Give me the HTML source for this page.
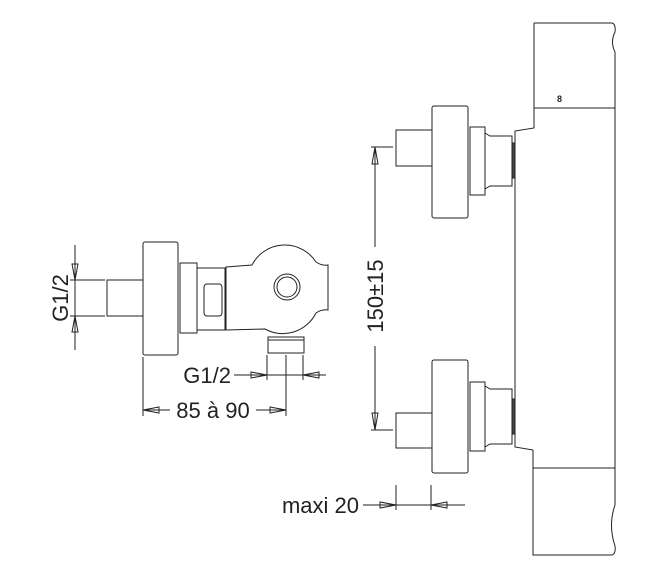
<!DOCTYPE html>
<html><head><style>html,body{margin:0;padding:0;background:#fff}svg{display:block}</style></head><body>
<svg width="660" height="588" viewBox="0 0 660 588" xmlns="http://www.w3.org/2000/svg" font-family="Liberation Sans, sans-serif" font-size="22" fill="none" stroke="#222" stroke-width="1">
<!-- Right body -->
<path d="M534,23 L612,23 Q616,24 615,32 Q610,42 615,52 L615,108 M534,23 L534,128 L515,131 L515,447 L533,450 L533,555 L612,555 Q616,554 615,546 Q608,525 615,505 L615,108 L615,470"/>
<line x1="534" y1="108" x2="615" y2="108"/>
<line x1="533" y1="468" x2="615" y2="468"/>
<text x="557" y="102" font-size="9" fill="#222" stroke="none" font-weight="bold">8</text>
<!-- Upper fitting -->
<rect x="396" y="130" width="36" height="36"/>
<rect x="432" y="106" width="36" height="112" rx="2"/>
<rect x="470" y="127" width="15" height="68"/>
<path d="M485,133 L490,136 L512,136 L512,186 L490,186 L485,189"/>
<rect x="512" y="143" width="3" height="35" fill="#444"/>
<!-- Lower fitting -->
<rect x="396" y="413" width="36" height="35"/>
<rect x="432" y="360" width="36" height="113" rx="2"/>
<rect x="470" y="382" width="15" height="69"/>
<path d="M485,386 L490,389 L512,389 L512,444 L490,444 L485,447"/>
<rect x="512" y="399" width="3" height="35" fill="#444"/>
<!-- 150±15 -->
<line x1="371" y1="147" x2="393" y2="147"/>
<line x1="371" y1="430" x2="393" y2="430"/>
<line x1="375" y1="147" x2="375" y2="247"/>
<line x1="375" y1="346" x2="375" y2="430"/>
<path d="M375,147 L372,164 L378,164 Z M375,430 L372,413 L378,413 Z"/>
<text transform="translate(383,296) rotate(-90)" text-anchor="middle" fill="#222" stroke="none">150±15</text>
<!-- maxi 20 -->
<line x1="396" y1="485" x2="396" y2="510"/>
<line x1="431" y1="485" x2="431" y2="510"/>
<line x1="363" y1="505" x2="465" y2="505"/>
<path d="M396,505 L380,502 L380,508 Z M431,505 L447,502 L447,508 Z"/>
<text x="359" y="513" text-anchor="end" fill="#222" stroke="none">maxi 20</text>
<!-- Left fitting -->
<rect x="107" y="280" width="36" height="36"/>
<rect x="143" y="242" width="35" height="113" rx="2"/>
<rect x="180" y="263" width="17" height="70"/>
<rect x="197" y="268" width="28" height="62"/>
<rect x="204" y="284" width="18" height="32" rx="3"/>
<path d="M226,267 L252,265 A37,37 0 0 1 316,262 Q322,266 328,265 L328,310 Q322,309 316,313 A37,37 0 0 1 265,329 L226,330 Z"/>
<circle cx="287" cy="287" r="13"/>
<circle cx="287" cy="287" r="10"/>
<rect x="268" y="337" width="36" height="16"/>
<line x1="268" y1="340" x2="304" y2="340"/>
<!-- G1/2 left -->
<line x1="70" y1="280" x2="105" y2="280"/>
<line x1="70" y1="316" x2="105" y2="316"/>
<line x1="75" y1="245" x2="75" y2="350"/>
<path d="M75,280 L72,264 L78,264 Z M75,316 L72,332 L78,332 Z"/>
<text transform="translate(68,298) rotate(-90)" text-anchor="middle" fill="#222" stroke="none">G1/2</text>
<!-- G1/2 bottom -->
<line x1="267" y1="355" x2="267" y2="380"/>
<line x1="303" y1="355" x2="303" y2="380"/>
<line x1="234" y1="375" x2="326" y2="375"/>
<path d="M267,375 L251,372 L251,378 Z M303,375 L319,372 L319,378 Z"/>
<text x="231" y="383" text-anchor="end" fill="#222" stroke="none">G1/2</text>
<!-- 85 a 90 -->
<line x1="143" y1="357" x2="143" y2="416"/>
<line x1="286" y1="355" x2="286" y2="416"/>
<line x1="143" y1="410" x2="170" y2="410"/>
<line x1="256" y1="410" x2="286" y2="410"/>
<path d="M143,410 L159,407 L159,413 Z M286,410 L270,407 L270,413 Z"/>
<text x="213" y="418" text-anchor="middle" fill="#222" stroke="none">85 à 90</text>
</svg>
</body></html>
